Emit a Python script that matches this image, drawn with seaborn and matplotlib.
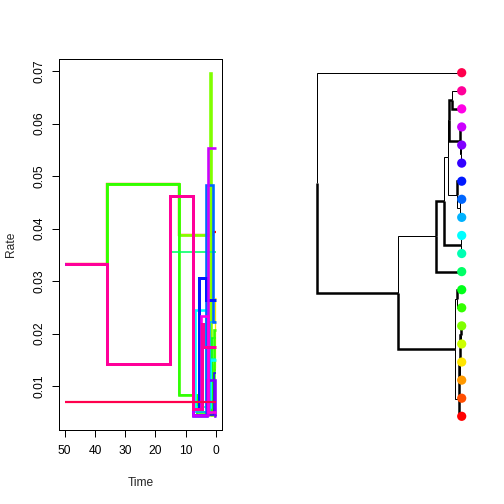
#!/usr/bin/env python3

import colorsys

import matplotlib
matplotlib.use("Agg")
import matplotlib.pyplot as plt
import numpy as np
import pandas as pd
import seaborn as sns

# ---- rate-through-time paths (times in Ma before present, one rate per interval) ----
path_hue = [0, 1, 2, 3, 4, 5, 7, 6,
            8, 9, 10, 11, 12, 14, 13, 15, 16, 17, 18,
            19]
path_times = [
    [50, 36, 12.1, 0.9, 0],
    [50, 36, 12.1, 2.0, 1.0, 0],
    [50, 36, 12.1, 2.0, 1.4, 0],
    [50, 36, 12.1, 2.0, 0.4, 0],
    [50, 36, 12.1, 2.0, 0.6, 0],
    [50, 36, 12.1, 2.0, 1.6, 0],
    [50, 36, 12.1, 6.4, 1.2, 0],
    [50, 36, 12.1, 6.4, 0.8, 0],
    [50, 36, 15.3, 0],
    [50, 36, 15.3, 7.5, 1.5, 0],
    [50, 36, 15.3, 7.5, 6.9, 3.3, 2.0, 0],
    [50, 36, 15.3, 7.5, 2.0, 0],
    [50, 36, 15.3, 7.5, 3.3, 1.1, 0],
    [50, 36, 15.3, 7.5, 0.8, 0],
    [50, 36, 15.3, 7.5, 5.5, 3.3, 0],
    [50, 36, 15.3, 7.5, 3.1, 0.3, 0],
    [50, 36, 15.3, 7.5, 2.5, 0],
    [50, 36, 15.3, 7.5, 5.0, 2.6, 0],
    [50, 36, 15.3, 7.5, 4.5, 4.2, 0],
    [50, 0],
]
path_rates = [
    [0.0333, 0.0485, 0.0388, 0.0393],
    [0.0333, 0.0485, 0.0388, 0.0045, 0.0130],
    [0.0333, 0.0485, 0.0388, 0.0045, 0.0150],
    [0.0333, 0.0485, 0.0388, 0.0135, 0.0268],
    [0.0333, 0.0485, 0.0388, 0.0060, 0.0140],
    [0.0333, 0.0485, 0.0388, 0.0697, 0.0045],
    [0.0333, 0.0485, 0.0082, 0.0045, 0.0192],
    [0.0333, 0.0485, 0.0082, 0.0050, 0.0207],
    [0.0333, 0.0142, 0.0355],
    [0.0333, 0.0142, 0.0462, 0.0060, 0.0152],
    [0.0333, 0.0142, 0.0462, 0.0057, 0.0245, 0.0060, 0.0150],
    [0.0333, 0.0142, 0.0462, 0.0050, 0.0221],
    [0.0333, 0.0142, 0.0462, 0.0045, 0.0483, 0.0221],
    [0.0333, 0.0142, 0.0462, 0.0045, 0.0125],
    [0.0333, 0.0142, 0.0462, 0.0057, 0.0305, 0.0264],
    [0.0333, 0.0142, 0.0462, 0.0042, 0.0111, 0.0042],
    [0.0333, 0.0142, 0.0462, 0.0045, 0.0553],
    [0.0333, 0.0142, 0.0462, 0.0057, 0.0233, 0.0050],
    [0.0333, 0.0142, 0.0462, 0.0057, 0.0219, 0.0174],
    [0.0070],
]
path_lw = [2.2, 1.6, 2.2, 1.3, 1.6, 2.6, 1.6, 2.6,
           1.6, 1.6, 2.6, 1.6, 2.6, 1.6, 3.0, 2.6, 2.6, 2.6, 3.0,
           2.2]

x_ticks = [50, 40, 30, 20, 10, 0]
y_ticks = [0.01, 0.02, 0.03, 0.04, 0.05, 0.06, 0.07]
y_tick_labels = ["0.01", "0.02", "0.03", "0.04", "0.05", "0.06", "0.07"]

# ---- tree (tips t0..t19 listed top to bottom, ages in Ma) ----
n_tips = 20
node_names = ["R", "A", "B", "C", "D", "E", "H", "G", "I", "L",
              "J", "K", "M", "N", "O", "P", "Q", "S", "U"]
node_ages = [50.0, 21.9, 8.9, 6.0, 0.35, 4.6, 4.3, 3.45, 0.6, 0.25,
             1.7, 0.6, 2.3, 1.7, 1.1, 0.9, 0.75, 0.55, 0.4]
edge_parent = ["R", "R", "A", "A", "B", "B", "C", "C", "D", "D",
               "E", "E", "H", "H", "G", "G", "I", "I", "L", "L",
               "J", "J", "K", "K", "M", "M", "N", "N", "O", "O",
               "P", "P", "Q", "Q", "S", "S", "U", "U"]
edge_child = ["t0", "A", "B", "M", "C", "t11", "E", "D", "t9", "t10",
              "H", "J", "G", "I", "t1", "t2", "t3", "L", "t4", "t5",
              "t6", "K", "t7", "t8", "N", "O", "t12", "t13", "t19", "P",
              "t18", "Q", "t17", "S", "t16", "U", "t14", "t15"]
edge_thick = [0, 1, 0, 1, 1, 1, 0, 1, 0, 0,
              0, 0, 1, 1, 0, 1, 1, 0, 0, 0,
              1, 0, 0, 0, 0, 0, 1, 0, 1, 1,
              0, 1, 0, 1, 0, 1, 1, 0]


def rainbow(i, n=20):
    return colorsys.hsv_to_rgb(i / n, 1.0, 1.0)


sns.set_style("white")
plt.rcParams["font.family"] = ["Liberation Sans", "DejaVu Sans"]
plt.rcParams["font.size"] = 12

fig = plt.figure(figsize=(7, 7), dpi=72)

# ---- left panel: rates through time ----
ax = fig.add_axes([59.3 / 504, 74 / 504, 162.4 / 504, 371 / 504])
for hue, times, rates, lw in zip(path_hue, path_times, path_rates, path_lw):
    df = pd.DataFrame({"time": times, "rate": list(rates) + [rates[-1]]})
    sns.lineplot(data=df, x="time", y="rate", sort=False, estimator=None,
                 drawstyle="steps-post", color=rainbow(hue), linewidth=lw,
                 solid_joinstyle="miter", solid_capstyle="butt", ax=ax)

ax.set_xlim(51.8, -1.9)
ax.set_ylim(0.00162, 0.07229)
ax.set_xticks(x_ticks)
ax.set_xticklabels([str(t) for t in x_ticks])
ax.set_yticks(y_ticks)
ax.set_yticklabels(y_tick_labels, rotation=90, va="center")
ax.tick_params(axis="both", direction="out", length=7, width=1, color="black",
               labelsize=12, labelcolor="black", bottom=True, left=True)
ax.tick_params(axis="x", pad=8)
ax.tick_params(axis="y", pad=7)
for sp in ax.spines.values():
    sp.set_visible(True)
    sp.set_color("black")
    sp.set_linewidth(1)
ax.set_xlabel("Time", fontsize=12, labelpad=20)
ax.set_ylabel("Rate", fontsize=12, labelpad=16)

# ---- right panel: phylogeny ----
age = dict(zip(node_names, node_ages))
for k in range(n_tips):
    age[f"t{k}"] = 0.0
children = {}
for p, c in zip(edge_parent, edge_child):
    children.setdefault(p, []).append(c)


def node_y(name):
    if name.startswith("t"):
        return float(name[1:])
    return np.mean([node_y(c) for c in children[name]])


ypos = {name: node_y(name) for name in list(age)}

tx = fig.add_axes([312.35 / 504, 78.66 / 504, 153.7 / 504, 361.68 / 504])
for p, c, thick in zip(edge_parent, edge_child, edge_thick):
    tx.plot([age[p], age[p], age[c]], [ypos[p], ypos[c], ypos[c]],
            color="black", linewidth=2.5 if thick else 1,
            solid_joinstyle="miter", solid_capstyle="butt")

tips = pd.DataFrame({"age": [0.0] * n_tips,
                     "y": [float(k) for k in range(n_tips)],
                     "tip": [f"t{k}" for k in range(n_tips)]})
palette = {f"t{k}": rainbow(n_tips - 1 - k) for k in range(n_tips)}
sns.scatterplot(data=tips, x="age", y="y", hue="tip", palette=palette,
                s=85, linewidth=0, legend=False, zorder=3, clip_on=False, ax=tx)
tx.set_xlim(51.5, -1.5)
tx.set_ylim(n_tips - 0.5, -0.5)
tx.axis("off")

fig.savefig("out.png", dpi=72)
